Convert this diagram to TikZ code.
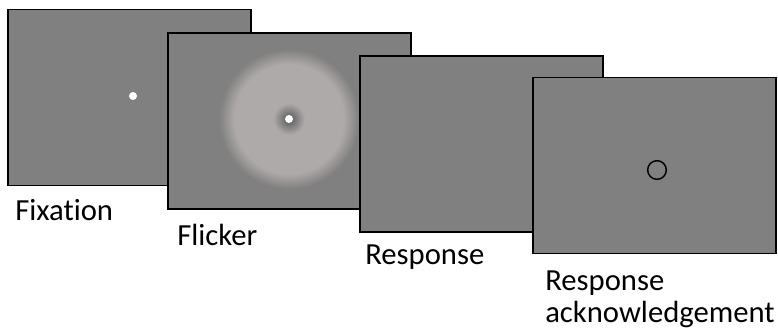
\documentclass[tikz,border=0pt]{standalone}
\usepackage{fontspec}
\setmainfont{Carlito}[Ligatures={NoCommon}]
\definecolor{bggray}{RGB}{128,128,128}
\definecolor{ringgray}{RGB}{174,170,169}
\definecolor{centergray}{RGB}{110,110,110}
\pgfdeclareradialshading{flickerring}{\pgfpoint{0bp}{0bp}}{%
  color(0bp)=(centergray);
  color(1.5bp)=(centergray);
  color(5.5bp)=(ringgray);
  color(19bp)=(ringgray);
  color(24.3bp)=(bggray);
  color(50bp)=(bggray)}
\tikzset{
  screen/.style={draw=black, line width=1.4pt, fill=bggray, minimum width=182.25pt, minimum height=132pt, inner sep=0pt},
  lbl/.style={anchor=base west, inner sep=0pt, font=\fontsize{23}{24}\selectfont, align=left},
  dot/.style={circle, fill=white, inner sep=0pt, minimum size=6pt}
}
\begin{document}
\begin{tikzpicture}[x=0.75pt, y=-0.75pt]
\useasboundingbox (0,0) rectangle (778,333);
\node[screen] (s1) at (129.5,97.5) {};
\node[dot] (d1) at (133,96) {};
\node[screen] (s2) at (289.5,121) {};
\path[shading=flickerring] (289,119) circle (72);
\node[dot] (d2) at (289,119) {};
\node[screen] (s3) at (481.5,144) {};
\node[screen] (s4) at (654.5,165.5) {};
\node[circle, draw=black, line width=1.1pt, minimum size=14pt, inner sep=0pt] (c4) at (657,170) {};
\node[lbl] (l1) at (15,220) {Fixation};
\node[lbl] (l2) at (177,245) {Flicker};
\node[lbl] (l3) at (365,264) {Response};
\node[lbl] (l4) at (545,290) {Response};
\node[lbl] (l5) at (545,322) {acknowledgement};
\end{tikzpicture}
\end{document}
